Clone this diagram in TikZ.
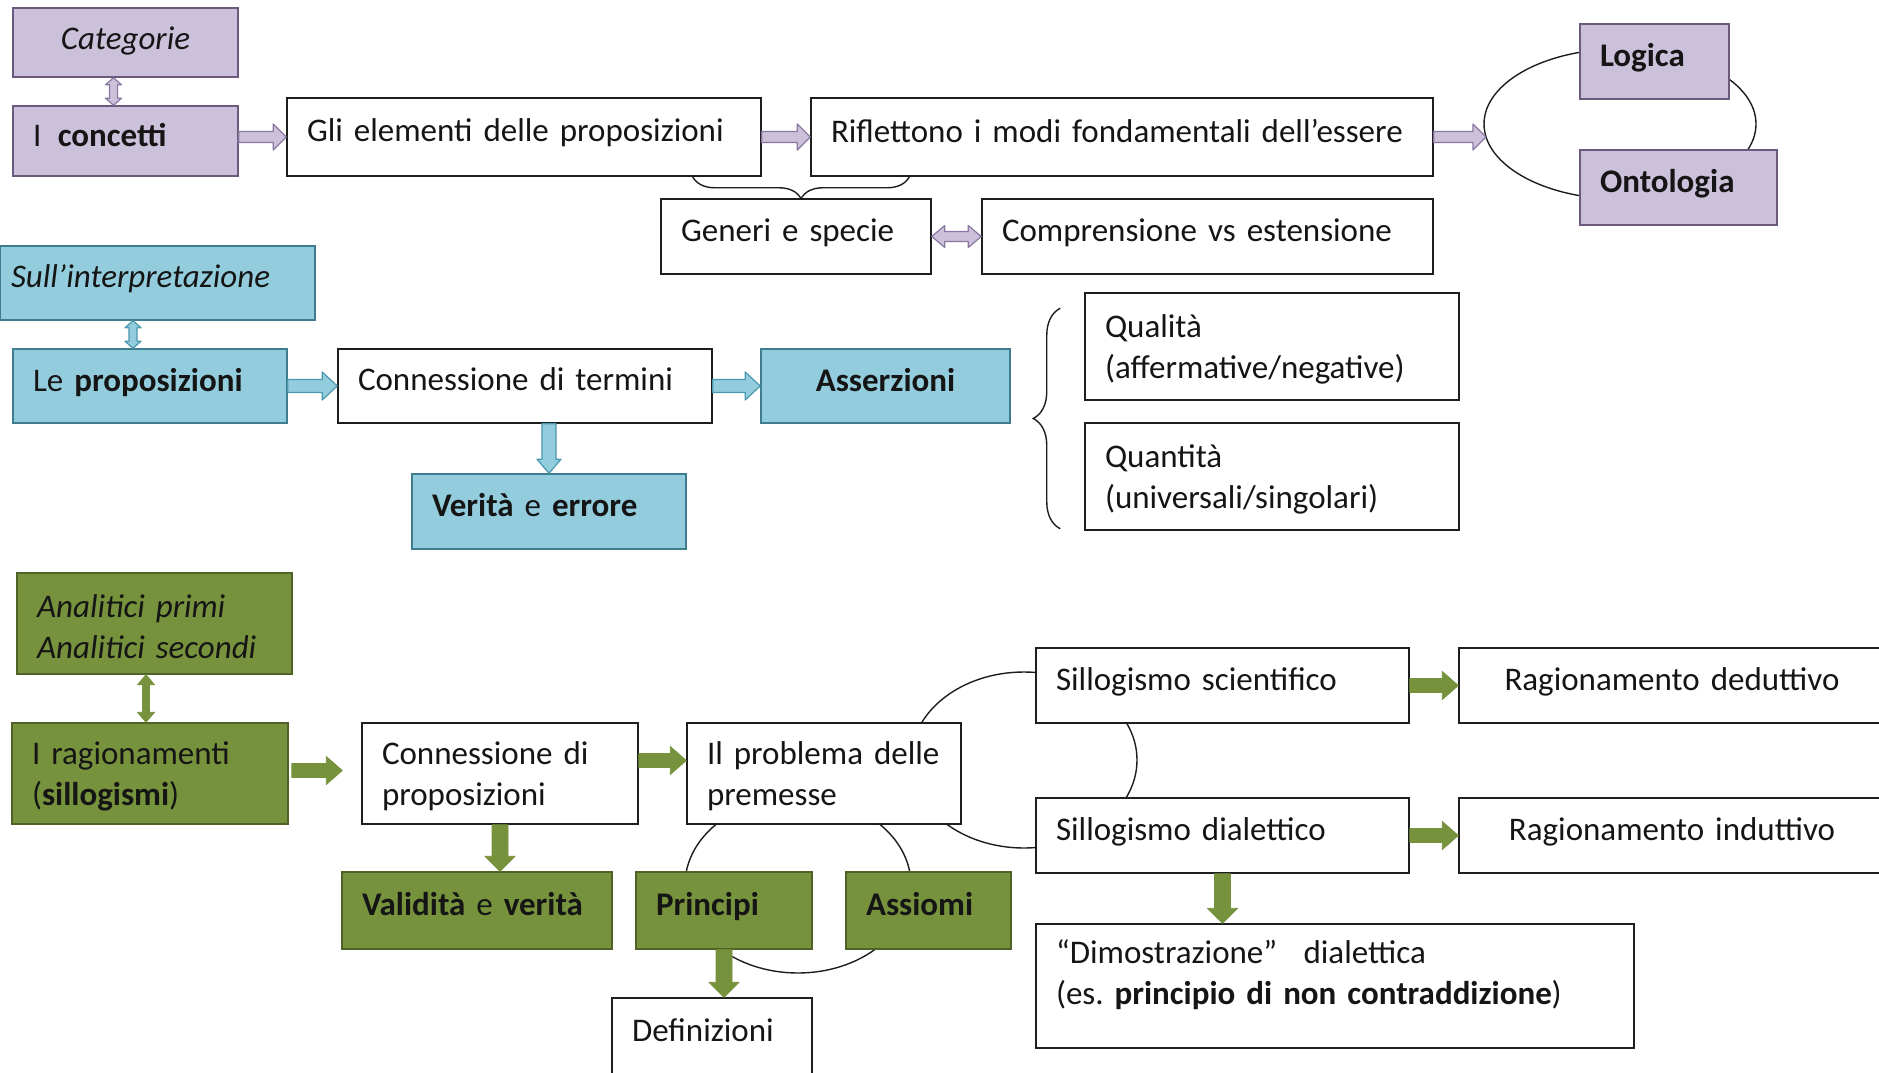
\documentclass[tikz,border=0pt]{standalone}
\usepackage{fontspec}
\setmainfont{Carlito}
\frenchspacing
\usetikzlibrary{calc,decorations.pathreplacing}
\definecolor{pF}{HTML}{CCC1DA}
\definecolor{pD}{HTML}{6B5A7E}
\definecolor{pA}{HTML}{8A78A2}
\definecolor{bF}{HTML}{93CDDD}
\definecolor{bD}{HTML}{3D7D8E}
\definecolor{bA}{HTML}{4A98AE}
\definecolor{gF}{HTML}{76923C}
\definecolor{gD}{HTML}{4F6228}
\definecolor{bk}{HTML}{1E1E1E}
\definecolor{txt}{HTML}{151515}
\newcommand\onel{\rule[-13pt]{0pt}{26pt}}
\newcommand\twol{\rule{0pt}{29pt}}
\tikzset{
 box/.style={draw=bk, line width=1.5pt, fill=white, inner xsep=20pt, inner ysep=0pt,
   align=left, font=\fontsize{33}{41}\selectfont, text=txt},
 pbox/.style={fill=pF, draw=pD},
 bbox/.style={fill=bF, draw=bD},
 gbox/.style={fill=gF, draw=gD},
 ctr/.style={align=center},
 parr/.style={fill=pF, draw=pA, line width=1.2pt, line join=round},
 barr/.style={fill=bF, draw=bA, line width=1.2pt, line join=round},
 garr/.style={fill=gF, draw=gF, line width=0.8pt, line join=round},
 cyc/.style={draw=bk, line width=1.4pt},
 brc/.style={draw=bk, line width=1.4pt, decorate, decoration={brace, amplitude=#1}},
}
% box: style, name, x1, y1, x2, y2, text
\newcommand\bx[7][]{%
  \pgfmathsetmacro\bw{#5-#3}\pgfmathsetmacro\bh{#6-#4}\pgfmathsetmacro\tw{#5-#3-40}%
  \node[box,#1,minimum width=\bw pt,minimum height=\bh pt,text width=\tw pt] (#2) at ({(#3+#5)/2},{(#4+#6)/2}) {#7};}
% single block arrow: style, from, to, shaft half, head half, head length
\newcommand\sarr[6][]{%
  \coordinate (arA) at (#2); \coordinate (arB) at (#3);
  \coordinate (arC) at ($(arB)!#6!(arA)$);
  \draw[#1] ($(arA)!#4!90:(arB)$) -- ($(arC)!#4!90:(arB)$) -- ($(arC)!#5!90:(arB)$) -- (arB)
    -- ($(arC)!#5!-90:(arB)$) -- ($(arC)!#4!-90:(arB)$) -- ($(arA)!#4!-90:(arB)$) -- cycle;}
% double block arrow
\newcommand\darr[6][]{%
  \coordinate (arA) at (#2); \coordinate (arB) at (#3);
  \coordinate (arC) at ($(arA)!#6!(arB)$); \coordinate (arD) at ($(arB)!#6!(arA)$);
  \draw[#1] (arA) -- ($(arC)!#5!90:(arB)$) -- ($(arC)!#4!90:(arB)$) -- ($(arD)!#4!90:(arB)$)
    -- ($(arD)!#5!90:(arB)$) -- (arB) -- ($(arD)!#5!-90:(arB)$) -- ($(arD)!#4!-90:(arB)$)
    -- ($(arC)!#4!-90:(arB)$) -- ($(arC)!#5!-90:(arB)$) -- cycle;}
\begin{document}
\begin{tikzpicture}[x=1pt,y=-1pt]
\useasboundingbox (0,0) rectangle (1879,1073);
\clip (0,0) rectangle (1879,1073);
\fill[white] (0,0) rectangle (1879,1073);

% cycles behind boxes
\draw[cyc] (1620,124) ellipse [x radius=136pt, y radius=75pt];
\draw[cyc] (1024,760) ellipse [x radius=113pt, y radius=88pt];
\draw[cyc] (798,885) ellipse [x radius=113pt, y radius=88pt];

% purple section
\bx[pbox,ctr]{cat}{13}{8}{238}{77}{\rule[-8pt]{0pt}{30pt}\textit{Categorie}}
\bx[pbox]{conc}{13}{106}{238}{176}{\onel I\hspace{0.5em}\textbf{concetti}}
\bx{gli}{287}{98}{761}{176}{\onel Gli elementi delle proposizioni}
\bx{rif}{811}{98}{1433}{176}{\onel Riflettono i modi fondamentali dell’essere}
\bx[pbox]{log}{1580}{24}{1729}{99}{\onel\textbf{Logica}}
\bx[pbox]{ont}{1580}{150}{1777}{225}{\onel\textbf{Ontologia}}
\bx{gen}{661}{199}{931}{274}{\onel Generi e specie}
\bx{comp}{982}{199}{1433}{274}{\onel Comprensione vs estensione}

% blue section
\bx[bbox]{sull}{0}{246}{315}{320}{\hspace*{-9pt}\onel\textit{Sull’interpretazione}}
\bx[bbox]{lep}{13}{349}{287}{423}{\onel Le \textbf{proposizioni}}
\bx{cdt}{338}{349}{712}{423}{\onel Connessione di termini}
\bx[bbox,ctr]{ass}{761}{349}{1010}{423}{\onel\textbf{Asserzioni}}
\bx[bbox]{ver}{412}{474}{686}{549}{\onel\textbf{Verità} e \textbf{errore}}
\bx{qual}{1085}{293}{1459}{400}{\twol Qualità\\(affermative/negative)}
\bx{quant}{1085}{423}{1459}{530}{\twol Quantità\\(universali/singolari)}

% green section
\bx[gbox]{anal}{17}{573}{292}{674}{\twol\textit{Analitici primi}\\\textit{Analitici secondi}}
\bx[gbox]{rag}{12}{723}{288}{824}{\twol I ragionamenti\\(\textbf{sillogismi})}
\bx{cdp}{362}{723}{638}{824}{\twol Connessione di\\proposizioni}
\bx{prob}{687}{723}{961}{824}{\twol Il problema delle\\premesse}
\bx[gbox]{vali}{342}{872}{612}{949}{\onel\textbf{Validità} e \textbf{verità}}
\bx[gbox]{prin}{636}{872}{812}{949}{\onel\textbf{Principi}}
\bx[gbox]{assi}{846}{872}{1011}{949}{\onel\textbf{Assiomi}}
\bx{defi}{612}{998}{812}{1090}{Definizioni\rule[-28pt]{0pt}{1pt}}
\bx{ssci}{1036}{648}{1409}{723}{\onel Sillogismo scientifico}
\bx{sdia}{1036}{798}{1409}{873}{\onel Sillogismo dialettico}
\bx[ctr]{rded}{1459}{648}{1885}{723}{\onel Ragionamento deduttivo}
\bx[ctr]{rind}{1459}{798}{1885}{873}{\onel Ragionamento induttivo}
\bx{dimo}{1036}{924}{1634}{1048}{“Dimostrazione”\hspace{0.8em}dialettica\\(es. \textbf{principio di non contraddizione})\rule[-28pt]{0pt}{1pt}}

% braces
\draw[brc=22pt] ([xshift=99pt]rif.south west) -- ([xshift=-69pt]gli.south east);
\draw[brc=27pt] ([xshift=-24pt,yshift=2pt]quant.south west) -- ([xshift=-24pt,yshift=-16pt]qual.north west);

% purple arrows
\sarr[parr]{conc.east |- gli.west}{gli.west}{5.5pt}{13pt}{13pt}
\sarr[parr]{gli.east}{rif.west}{5.5pt}{13pt}{13pt}
\coordinate (cycw) at (1486,137);
\sarr[parr]{rif.east}{cycw}{5.5pt}{13pt}{13pt}
\darr[parr]{[xshift=-12pt]cat.south}{[xshift=-12pt]conc.north}{4pt}{8pt}{7pt}
\darr[parr]{gen.east}{comp.west}{5pt}{11pt}{13pt}

% blue arrows
\coordinate (t1) at ([xshift=-17pt]lep.north);
\darr[barr]{sull.south -| t1}{t1}{4pt}{8pt}{7pt}
\sarr[barr]{lep.east}{cdt.west}{6.5pt}{14pt}{15pt}
\sarr[barr]{cdt.east}{ass.west}{6.5pt}{14pt}{15pt}
\sarr[barr]{cdt.south -| ver.north}{ver.north}{7pt}{12pt}{14pt}

% green arrows
\coordinate (t2) at ([xshift=-4pt]rag.north);
\darr[garr]{anal.south -| t2}{t2}{3.5pt}{8.5pt}{10pt}
\sarr[garr]{[xshift=3pt,yshift=3pt]rag.east}{[xshift=-19pt,yshift=3pt]cdp.west}{7pt}{14pt}{16pt}
\sarr[garr]{[yshift=13pt]cdp.east}{[yshift=13pt]prob.west}{7pt}{14pt}{16pt}
\sarr[garr]{cdp.south}{cdp.south |- vali.north}{8pt}{15pt}{15pt}
\sarr[garr]{prin.south}{prin.south |- defi.north}{8pt}{15pt}{15pt}
\sarr[garr]{ssci.east}{rded.west}{7pt}{14pt}{16pt}
\sarr[garr]{sdia.east}{rind.west}{7pt}{14pt}{16pt}
\sarr[garr]{sdia.south}{sdia.south |- dimo.north}{8pt}{15pt}{15pt}
\end{tikzpicture}
\end{document}
